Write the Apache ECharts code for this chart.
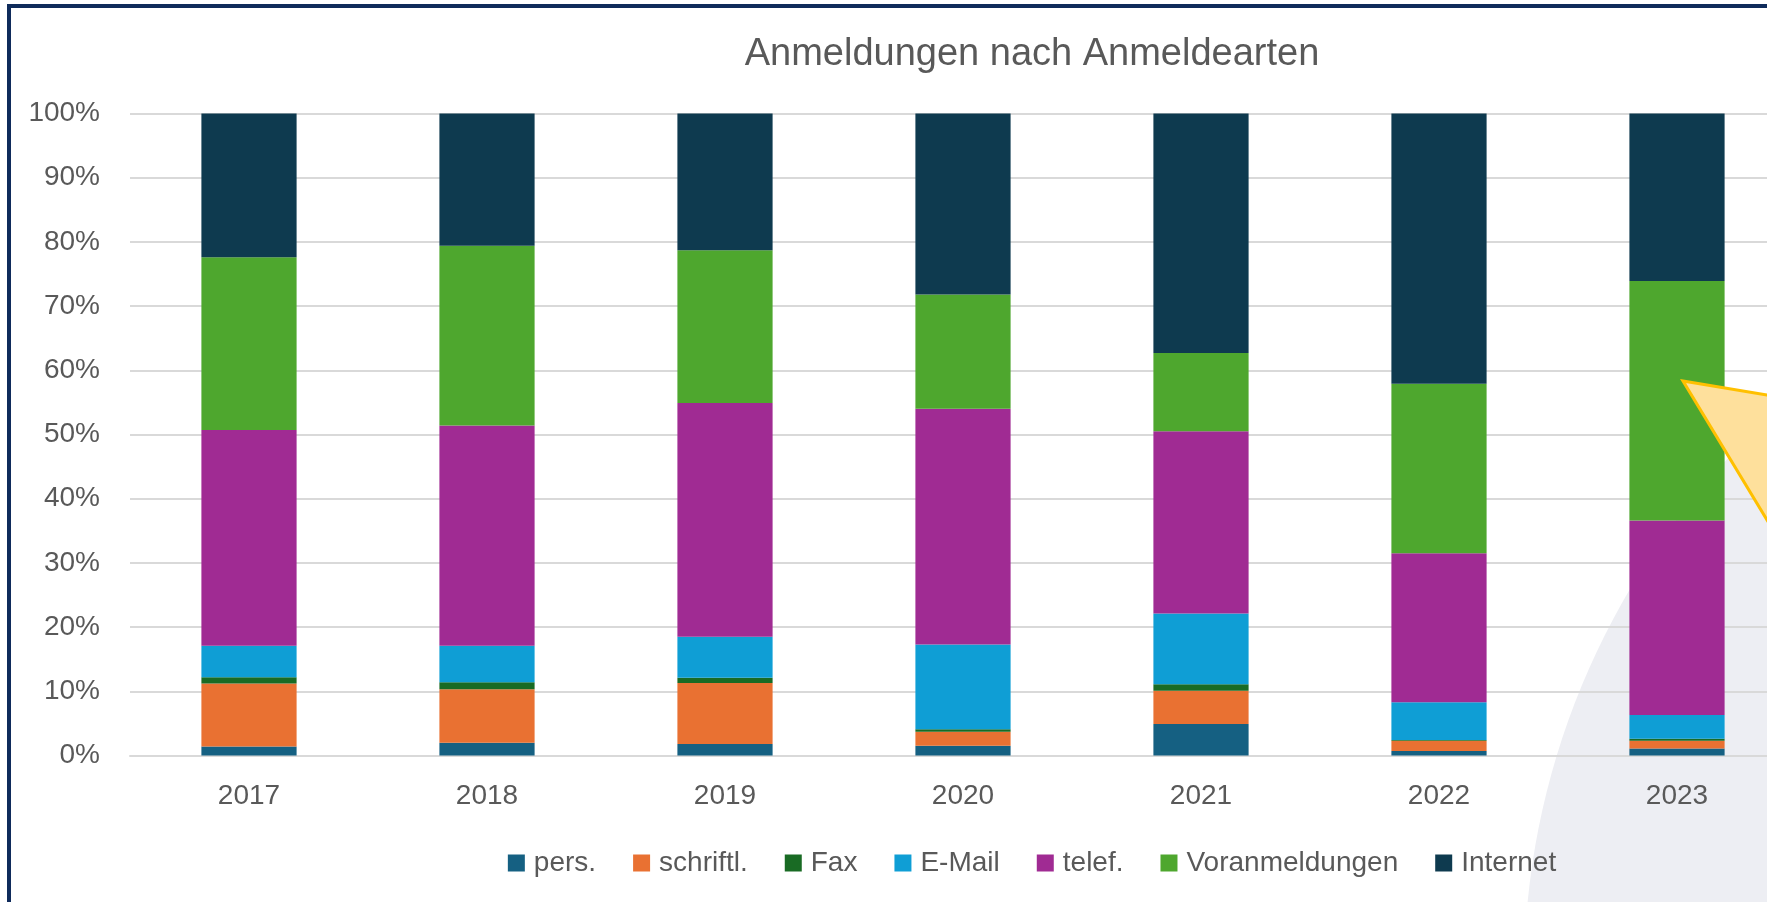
<!DOCTYPE html>
<html>
<head>
<meta charset="utf-8">
<script src="https://cdn.jsdelivr.net/npm/echarts@6/dist/echarts.min.js"></script>
<style>
  html, body { margin: 0; padding: 0; overflow: hidden; background: #fff; }
  #myChart { width: 2064px; height: 902px; }
</style>
</head>
<body>
<div id="myChart"></div>
<script>
// Jahre und Anteile in Prozent
var years = ['2017', '2018', '2019', '2020', '2021', '2022', '2023'];
var pers = [1.4, 2.0, 1.8, 1.5, 4.9, 0.7, 1.1];
var schriftl = [9.8, 8.3, 9.5, 2.2, 5.2, 1.6, 1.2];
var fax = [1.0, 1.1, 0.8, 0.4, 1.0, 0.1, 0.3];
var email = [4.9, 5.7, 6.4, 13.2, 11.0, 5.9, 3.7];
var telef = [33.6, 34.3, 36.4, 36.7, 28.4, 23.2, 30.3];
var voranmeldungen = [26.9, 28.0, 23.8, 17.8, 12.2, 26.4, 37.3];
var internet = [22.4, 20.6, 21.3, 28.2, 37.3, 42.1, 26.1];

var seriesNames = ['pers.', 'schriftl.', 'Fax', 'E-Mail', 'telef.', 'Voranmeldungen', 'Internet'];
var seriesData = [pers, schriftl, fax, email, telef, voranmeldungen, internet];
var colors = ['#156082', '#e97132', '#196b24', '#0f9ed5', '#a02b93', '#4ea72e', '#0e3a4f'];

var font = 'Liberation Sans, Arial, sans-serif';
var myChart = echarts.init(document.getElementById('myChart'));

var dataSeries = [];
for (var i = 0; i < seriesNames.length; i++) {
  dataSeries.push({
    name: seriesNames[i],
    type: 'bar',
    stack: 'total',
    barWidth: '40%',
    emphasis: { disabled: true },
    data: seriesData[i]
  });
}

myChart.setOption({
  animation: false,
  color: colors,
  backgroundColor: '#fff',
  title: {
    text: 'Anmeldungen nach Anmeldearten',
    left: 'center',
    top: 36,
    padding: 0,
    textStyle: { color: '#595959', fontSize: 38, fontWeight: 'normal', fontFamily: font }
  },
  legend: {
    left: 'center',
    top: 849,
    padding: 0,
    icon: 'rect',
    itemWidth: 17,
    itemHeight: 17,
    itemGap: 37,
    textStyle: { color: '#595959', fontSize: 28, fontFamily: font, padding: [0, 0, 0, 4] },
    data: seriesNames
  },
  grid: { left: 130, top: 113.5, width: 1666, height: 642 },
  xAxis: {
    type: 'category',
    data: years,
    axisTick: { show: false },
    axisLine: { lineStyle: { color: '#d9d9d9', width: 2 } },
    axisLabel: { color: '#595959', fontSize: 28, fontFamily: font, margin: 27 }
  },
  yAxis: {
    type: 'value',
    min: 0,
    max: 100,
    interval: 10,
    axisLine: { show: false },
    axisTick: { show: false },
    splitLine: { lineStyle: { color: '#d9d9d9', width: 2 } },
    axisLabel: { color: '#595959', fontSize: 28, fontFamily: font, margin: 30, formatter: '{value}%' }
  },
  graphic: [
    // heller Kreis im Hintergrund rechts unten
    { type: 'circle', z: -1, silent: true, shape: { cx: 2283, cy: 976, r: 759 }, style: { fill: '#edeef3' } },
    // Sprechblasen-Spitze
    { type: 'polygon', z: 100, silent: true,
      shape: { points: [[1683, 381], [1800, 400.5], [1800, 574.6]] },
      style: { fill: '#fee09c', stroke: '#ffc000', lineWidth: 3 } },
    // Rahmen
    { type: 'rect', z: 100, silent: true, shape: { x: 9, y: 6, width: 3000, height: 2000 },
      style: { fill: 'none', stroke: '#0f2b5b', lineWidth: 4 } }
  ],
  series: dataSeries
});
</script>
</body>
</html>
